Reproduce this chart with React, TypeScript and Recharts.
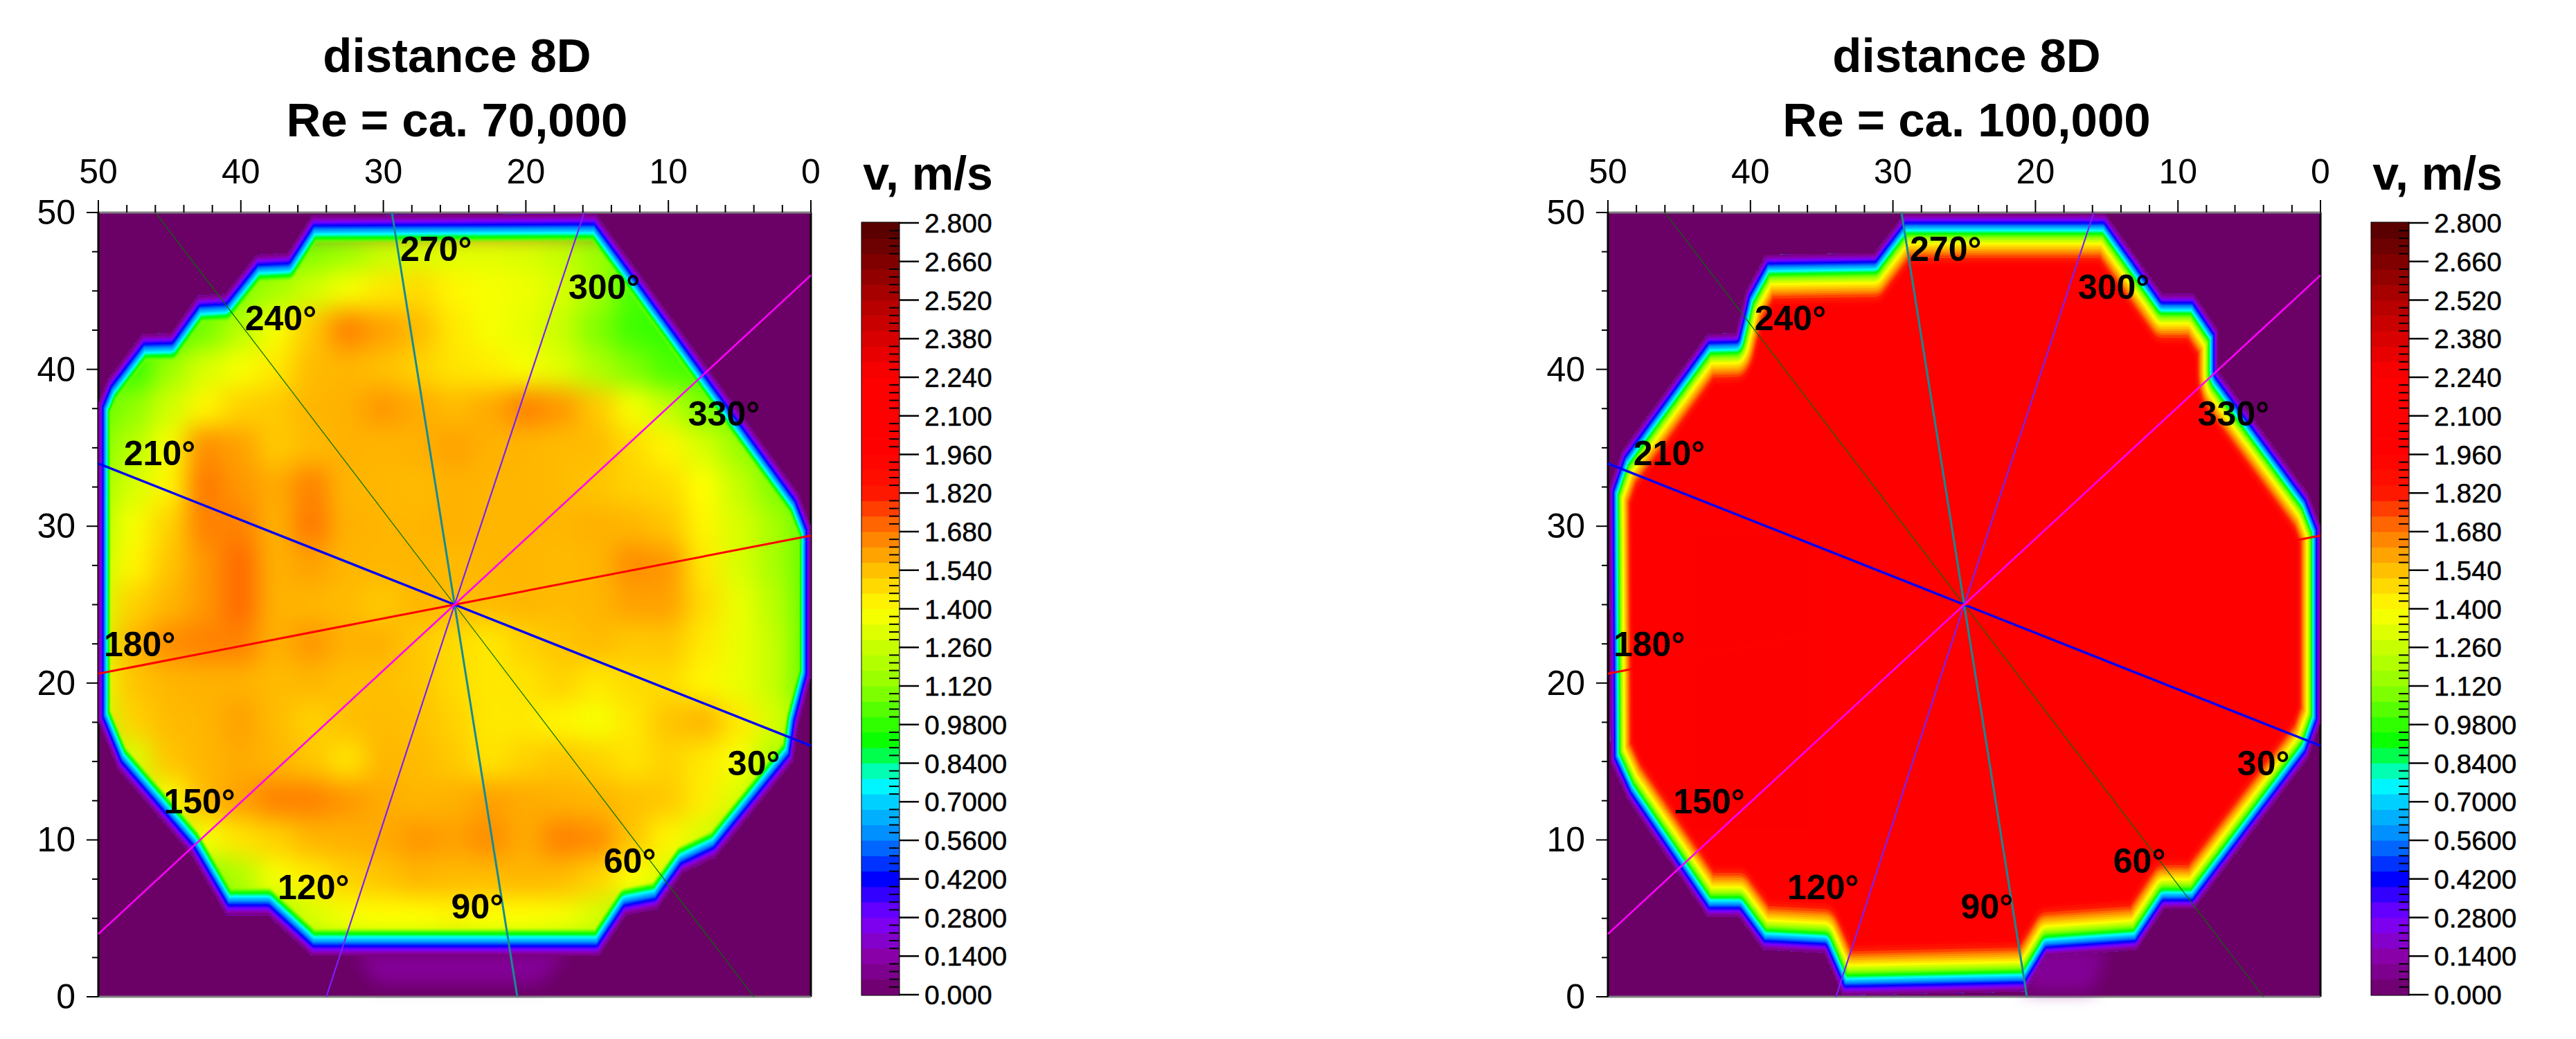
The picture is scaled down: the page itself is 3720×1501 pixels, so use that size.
import React from "react"
import {
  ScatterChart,
  Scatter,
  XAxis,
  YAxis,
  CartesianGrid,
  ReferenceLine,
  ReferenceArea,
  BarChart,
  Bar,
} from "recharts"

type Pt = { x: number; y: number }

const FONT = '"Liberation Sans", Arial, sans-serif'
const PURPLE = "#6b0066"

const xTicks = [50, 48, 46, 44, 42, 40, 38, 36, 34, 32, 30, 28, 26, 24, 22, 20, 18, 16, 14, 12, 10, 8, 6, 4, 2, 0]
const yTicks = [0, 2.5, 5, 7.5, 10, 12.5, 15, 17.5, 20, 22.5, 25, 27.5, 30, 32.5, 35, 37.5, 40, 42.5, 45, 47.5, 50]

// colour scale of the legend
const stopValues = [0, 0.14, 0.28, 0.35, 0.42, 0.56, 0.7, 0.77, 0.84, 0.91, 0.98, 1.12, 1.26, 1.4, 1.54, 1.68, 1.82, 1.96, 2.24, 2.38, 2.52, 2.66, 2.8]
const stopColors = ["#6b0066", "#8a00a8", "#7a00ff", "#4000ff", "#0000ff", "#0080ff", "#00d0ff", "#00ffff", "#00ff80", "#00ff00", "#30ff00", "#90ff00", "#c8ff00", "#ffff00", "#ffc000", "#ff7800", "#ff1800", "#ff0000", "#ff0000", "#d80000", "#b00000", "#800000", "#500000"]

const legendTicks = [0, 0.14, 0.28, 0.42, 0.56, 0.7, 0.84, 0.98, 1.12, 1.26, 1.4, 1.54, 1.68, 1.82, 1.96, 2.1, 2.24, 2.38, 2.52, 2.66, 2.8]
const legendLabels = ["0.000", "0.1400", "0.2800", "0.4200", "0.5600", "0.7000", "0.8400", "0.9800", "1.120", "1.260", "1.400", "1.540", "1.680", "1.820", "1.960", "2.100", "2.240", "2.380", "2.520", "2.660", "2.800"]
const legendBands = [0, 0.056, 0.112, 0.168, 0.224, 0.28, 0.336, 0.392, 0.448, 0.504, 0.56, 0.616, 0.672, 0.728, 0.784, 0.84, 0.896, 0.952, 1.008, 1.064, 1.12, 1.176, 1.232, 1.288, 1.344, 1.4, 1.456, 1.512, 1.568, 1.624, 1.68, 1.736, 1.792, 1.848, 1.904, 1.96, 2.016, 2.072, 2.128, 2.184, 2.24, 2.296, 2.352, 2.408, 2.464, 2.52, 2.576, 2.632, 2.688, 2.744]

// measuring directions: each is a chord through the centre
const magentaLine: Pt[] = [{ x: 50, y: 4 }, { x: 25, y: 25 }, { x: 0, y: 46 }]
const blueLine: Pt[] = [{ x: 50, y: 34 }, { x: 25, y: 25 }, { x: 0, y: 16 }]
const redLine: Pt[] = [{ x: 50, y: 20.6 }, { x: 25, y: 25 }, { x: 0, y: 29.4 }]
const tealLine: Pt[] = [{ x: 29.4, y: 50 }, { x: 25, y: 25 }, { x: 20.6, y: 0 }]
const violetLine: Pt[] = [{ x: 15.9, y: 50 }, { x: 25, y: 25 }, { x: 34, y: 0 }]
const greenLine: Pt[] = [{ x: 46, y: 50 }, { x: 25, y: 25 }, { x: 4, y: 0 }]

const angleLabels = [
  { x: 26.3, y: 47.7, label: "270°" },
  { x: 14.5, y: 45.3, label: "300°" },
  { x: 37.2, y: 43.3, label: "240°" },
  { x: 6.1, y: 37.2, label: "330°" },
  { x: 45.7, y: 34.7, label: "210°" },
  { x: 47.1, y: 22.5, label: "180°" },
  { x: 42.9, y: 12.5, label: "150°" },
  { x: 4.0, y: 14.9, label: "30°" },
  { x: 34.9, y: 7, label: "120°" },
  { x: 23.4, y: 5.8, label: "90°" },
  { x: 12.7, y: 8.7, label: "60°" },
]

// outer edge of the measured jet
const leftOutline: Pt[] = [
  { x: 50, y: 37.85 }, { x: 49.3, y: 39.4 }, { x: 46.9, y: 42.25 }, { x: 44.9, y: 42.3 }, { x: 43, y: 44.7 },
  { x: 41.1, y: 44.8 }, { x: 38.9, y: 47.3 }, { x: 36.7, y: 47.4 }, { x: 35, y: 49.8 }, { x: 15.1, y: 49.9 },
  { x: 12.2, y: 46.3 }, { x: 0.9, y: 32.1 }, { x: 0, y: 30 }, { x: 0, y: 20.4 }, { x: 0.9, y: 17.3 },
  { x: 1.26, y: 15 }, { x: 6.7, y: 8.9 }, { x: 9, y: 7.9 }, { x: 10.8, y: 5.6 }, { x: 13, y: 5.2 },
  { x: 14.9, y: 2.6 }, { x: 35, y: 2.6 }, { x: 38.1, y: 5.2 }, { x: 41, y: 5.2 }, { x: 43.5, y: 9.1 },
  { x: 48.6, y: 14.5 }, { x: 50, y: 17.6 },
]
const rightOutline: Pt[] = [
  { x: 49.9, y: 32.4 }, { x: 49, y: 34.8 }, { x: 43, y: 42.25 }, { x: 41, y: 42.3 }, { x: 40.3, y: 45 },
  { x: 38.9, y: 47.3 }, { x: 31.3, y: 47.4 }, { x: 29.2, y: 49.9 }, { x: 15.1, y: 49.9 }, { x: 11.1, y: 44.8 },
  { x: 8.9, y: 44.8 }, { x: 7.2, y: 42.5 }, { x: 7.2, y: 39.9 }, { x: 0.9, y: 32.1 }, { x: 0, y: 30 },
  { x: 0, y: 17.5 }, { x: 0.9, y: 15.2 }, { x: 8.9, y: 5.6 }, { x: 11, y: 5.6 }, { x: 12.9, y: 3 },
  { x: 19.2, y: 2.6 }, { x: 20.7, y: 0.35 }, { x: 33.5, y: 0.1 }, { x: 34.8, y: 2.8 }, { x: 39.1, y: 3 },
  { x: 40.8, y: 5.1 }, { x: 43, y: 5.1 }, { x: 48.6, y: 12.6 }, { x: 49.8, y: 15 },
]
const leftHalo: Pt[] = [{ x: 32, y: 2.8 }, { x: 30.5, y: 0.8 }, { x: 19, y: 0.8 }, { x: 17, y: 2.8 }]
const rightHalo: Pt[] = [{ x: 20.7, y: 3 }, { x: 20.7, y: 0.4 }, { x: 16, y: 0.4 }, { x: 15, y: 3 }]

// velocity, x = 50..0 in 2.5 steps
const leftColumns = [50, 47.5, 45, 42.5, 40, 37.5, 35, 32.5, 30, 27.5, 25, 22.5, 20, 17.5, 15, 12.5, 10, 7.5, 5, 2.5, 0]
const leftRowYs = [47.5, 45, 42.5, 40, 37.5, 35, 32.5, 30, 27.5, 25, 22.5, 20, 17.5, 15, 12.5, 10, 7.5, 5, 2.5]
const leftRows = [
  [1.05, 1.05, 1.05, 1.05, 1.05, 1.05, 1.1, 1.15, 1.25, 1.3, 1.32, 1.32, 1.3, 1.25, 1.15, 1.05, 1.05, 1.05, 1.05, 1.05, 1.05],
  [1.05, 1.05, 1.05, 1.05, 1.1, 1.18, 1.28, 1.38, 1.45, 1.48, 1.42, 1.38, 1.36, 1.3, 1.18, 1.02, 1.0, 1.0, 1.0, 1.0, 1.0],
  [1.05, 1.05, 1.0, 1.08, 1.22, 1.38, 1.52, 1.66, 1.6, 1.55, 1.45, 1.38, 1.34, 1.26, 1.1, 1.0, 0.98, 1.0, 1.0, 1.0, 1.0],
  [1.05, 0.98, 1.15, 1.3, 1.38, 1.45, 1.55, 1.56, 1.54, 1.5, 1.46, 1.44, 1.38, 1.32, 1.2, 1.1, 1.02, 1.0, 1.0, 1.0, 1.0],
  [1.05, 1.12, 1.28, 1.42, 1.5, 1.52, 1.56, 1.57, 1.62, 1.58, 1.55, 1.58, 1.66, 1.62, 1.52, 1.38, 1.25, 1.1, 1.05, 1.0, 1.0],
  [1.1, 1.22, 1.38, 1.64, 1.6, 1.52, 1.55, 1.57, 1.56, 1.57, 1.6, 1.57, 1.56, 1.55, 1.55, 1.48, 1.42, 1.3, 1.15, 1.05, 1.0],
  [1.15, 1.3, 1.42, 1.68, 1.62, 1.58, 1.66, 1.56, 1.56, 1.55, 1.57, 1.56, 1.56, 1.55, 1.53, 1.5, 1.48, 1.4, 1.25, 1.1, 1.0],
  [1.2, 1.38, 1.5, 1.66, 1.66, 1.57, 1.68, 1.57, 1.56, 1.56, 1.57, 1.56, 1.56, 1.56, 1.57, 1.56, 1.53, 1.42, 1.3, 1.18, 1.05],
  [1.25, 1.42, 1.53, 1.62, 1.7, 1.57, 1.6, 1.56, 1.56, 1.56, 1.55, 1.56, 1.56, 1.55, 1.56, 1.64, 1.62, 1.45, 1.3, 1.18, 1.05],
  [1.3, 1.5, 1.56, 1.62, 1.7, 1.57, 1.56, 1.55, 1.52, 1.56, 1.55, 1.55, 1.56, 1.55, 1.56, 1.6, 1.6, 1.48, 1.35, 1.22, 1.05],
  [1.3, 1.56, 1.64, 1.66, 1.66, 1.57, 1.62, 1.57, 1.57, 1.52, 1.48, 1.45, 1.5, 1.53, 1.55, 1.52, 1.53, 1.45, 1.35, 1.25, 1.05],
  [1.35, 1.53, 1.56, 1.57, 1.57, 1.55, 1.56, 1.54, 1.54, 1.53, 1.48, 1.45, 1.46, 1.5, 1.45, 1.48, 1.48, 1.42, 1.35, 1.25, 1.05],
  [1.25, 1.5, 1.55, 1.56, 1.6, 1.55, 1.5, 1.54, 1.55, 1.54, 1.5, 1.45, 1.45, 1.42, 1.38, 1.45, 1.53, 1.56, 1.45, 1.3, 1.1],
  [1.1, 1.3, 1.53, 1.56, 1.58, 1.56, 1.53, 1.46, 1.56, 1.55, 1.52, 1.46, 1.5, 1.53, 1.5, 1.46, 1.5, 1.45, 1.38, 1.2, 1.1],
  [1.1, 1.15, 1.38, 1.55, 1.6, 1.66, 1.66, 1.62, 1.58, 1.56, 1.57, 1.6, 1.58, 1.57, 1.56, 1.54, 1.52, 1.44, 1.3, 1.1, 1.1],
  [1.1, 1.1, 1.12, 1.38, 1.46, 1.5, 1.56, 1.57, 1.58, 1.62, 1.6, 1.64, 1.58, 1.66, 1.64, 1.53, 1.42, 1.3, 1.12, 1.1, 1.1],
  [1.1, 1.1, 1.1, 1.1, 1.2, 1.38, 1.44, 1.5, 1.53, 1.56, 1.55, 1.55, 1.56, 1.55, 1.5, 1.4, 1.3, 1.1, 1.1, 1.1, 1.1],
  [1.1, 1.1, 1.1, 1.1, 1.1, 1.15, 1.3, 1.38, 1.4, 1.4, 1.42, 1.4, 1.4, 1.38, 1.3, 1.1, 1.1, 1.1, 1.1, 1.1, 1.1],
  [1.1, 1.1, 1.1, 1.1, 1.1, 1.1, 1.1, 1.1, 1.1, 1.1, 1.1, 1.1, 1.1, 1.1, 1.1, 1.1, 1.1, 1.1, 1.1, 1.1, 1.1],
]
// the right map is saturated red, with only faint darker patches
const rightColumns = [50, 40, 30, 20, 10, 0]
const rightRowYs = [45, 35, 25, 15, 5]
const rightRows = [
  [2.05, 2.05, 2.05, 2.05, 2.05, 2.05],
  [2.05, 2.24, 2.05, 2.05, 2.05, 2.05],
  [2.05, 2.25, 2.05, 2.05, 2.05, 2.05],
  [2.05, 2.25, 2.05, 2.05, 2.05, 2.05],
  [2.05, 2.05, 2.05, 2.05, 2.05, 2.05],
]

const rimLevelsLeft = [1.14, 1.1, 1.06, 1.02, 0.98, 0.945, 0.91, 0.875, 0.84, 0.805, 0.77, 0.735, 0.7, 0.665, 0.63, 0.595, 0.56, 0.525, 0.49, 0.455, 0.42, 0.385, 0.35, 0.315, 0.28, 0.245, 0.21, 0.175, 0.14, 0.105, 0.07]
const rimLevelsRight = [2.0, 1.94, 1.88, 1.82, 1.76, 1.7, 1.64, 1.58, 1.52, 1.46, 1.4, 1.34, 1.28, 1.22, 1.16, 1.1, 1.04, 0.98, 0.945, 0.91, 0.875, 0.84, 0.805, 0.77, 0.735, 0.7, 0.665, 0.63, 0.595, 0.56, 0.525, 0.49, 0.455, 0.42, 0.385, 0.35, 0.315, 0.28, 0.245, 0.21, 0.175, 0.14, 0.105, 0.07]

function hexToRgb(h: string) {
  return [parseInt(h.slice(1, 3), 16), parseInt(h.slice(3, 5), 16), parseInt(h.slice(5, 7), 16)]
}

function colorFor(v: number) {
  if (v <= stopValues[0]) return stopColors[0]
  for (let i = 1; i < stopValues.length; i++) {
    if (v <= stopValues[i]) {
      const t = (v - stopValues[i - 1]) / (stopValues[i] - stopValues[i - 1])
      const a = hexToRgb(stopColors[i - 1])
      const b = hexToRgb(stopColors[i])
      const c = a.map((n, k) => Math.round(n + (b[k] - n) * t))
      return `rgb(${c[0]},${c[1]},${c[2]})`
    }
  }
  return stopColors[stopColors.length - 1]
}

// horizontal half width of each colour band, vertical is PEN_RATIO times that
const PEN_RATIO = 2.2
const penLeft = (v: number) => (v / 0.98) * 16
const penRight = (v: number) => {
  if (v <= 0.98) return (v / 0.98) * 14
  if (v <= 1.4) return 14 + ((v - 0.98) / 0.42) * 6
  if (v <= 1.7) return 20 + ((v - 1.4) / 0.3) * 7
  return 27 + ((v - 1.7) / 0.3) * 9
}

const toPath = (points: { x: number; y: number }[], ky = 1) =>
  points.map((p, i) => `${i === 0 ? "M" : "L"}${p.x},${p.y / ky}`).join(" ") + " Z"

const hidden = () => null

function XTick({ x, y, payload }: any) {
  const major = payload.value % 10 === 0
  return (
    <g>
      <line x1={x} x2={x} y1={y} y2={y - (major ? 18 : 11)} stroke="#000" strokeWidth={2} />
      {major && (
        <text x={x} y={y - 42} textAnchor="middle" fontFamily={FONT} fontSize={50} fill="#000">
          {payload.value}
        </text>
      )}
    </g>
  )
}

function YTick({ x, y, payload }: any) {
  const major = payload.value % 10 === 0
  return (
    <g>
      <line x1={x} x2={x - (major ? 17 : 9)} y1={y} y2={y} stroke="#000" strokeWidth={2} />
      {major && (
        <text x={x - 33} y={y + 17} textAnchor="end" fontFamily={FONT} fontSize={50} fill="#000">
          {payload.value}
        </text>
      )}
    </g>
  )
}

function Panel({
  id,
  left,
  outline,
  halo,
  rows,
  rowYs,
  columns,
  levels,
  pen,
  cellW,
  cellH,
  fade,
}: {
  id: string
  left: number
  outline: Pt[]
  halo: Pt[]
  rows: number[][]
  rowYs: number[]
  columns: number[]
  levels: number[]
  pen: (v: number) => number
  cellW: number
  cellH: number
  fade: number
}) {
  const cells = rows.flatMap((row, r) => row.map((v, c) => ({ x: columns[c], y: rowYs[r], v })))
  const lineOf = (stroke: string, width: number) => (p: any) => (
    <path d={p.points.map((q: Pt, i: number) => `${i ? "L" : "M"}${q.x},${q.y}`).join(" ")} stroke={stroke} strokeWidth={width} fill="none" />
  )
  return (
    <div style={{ position: "absolute", left, top: 0 }}>
      <style>{`.heat-${id}{filter:blur(17px);clip-path:url(#outline-${id})}`}</style>
      <ScatterChart width={1240} height={1501} margin={{ left: 82, right: 69, top: 247, bottom: 61 }}>
        <CartesianGrid fill={PURPLE} horizontal={false} vertical={false} />
        <XAxis
          xAxisId={0}
          dataKey="x"
          type="number"
          orientation="top"
          domain={[0, 50]}
          reversed
          ticks={xTicks}
          interval={0}
          height={60}
          tickSize={0}
          tickMargin={0}
          tick={XTick}
          tickLine={false}
          axisLine={{ stroke: "#808080", strokeWidth: 3 }}
        />
        <YAxis
          yAxisId={0}
          dataKey="y"
          type="number"
          domain={[0, 50]}
          ticks={yTicks}
          interval={0}
          width={60}
          tickSize={0}
          tickMargin={0}
          tick={YTick}
          tickLine={false}
          axisLine={{ stroke: "#000", strokeWidth: 3 }}
        />
        <Scatter
          data={halo}
          isAnimationActive={false}
          shape={hidden}
          line={(p: any) => <path d={toPath(p.points)} fill="#8a00a4" fillOpacity={0.8} style={{ filter: "blur(12px)" }} />}
        />
        <Scatter
          data={outline}
          isAnimationActive={false}
          shape={hidden}
          line={(p: any) => (
            <defs>
              <clipPath id={`outline-${id}`}>
                <path d={toPath(p.points)} />
              </clipPath>
            </defs>
          )}
        />
        <Scatter
          className={`heat-${id}`}
          data={cells}
          isAnimationActive={false}
          shape={(p: any) => (
            <rect x={p.cx - cellW / 2} y={p.cy - cellH / 2} width={cellW} height={cellH} fill={colorFor(p.payload.v)} />
          )}
        />
        <Scatter
          data={outline}
          isAnimationActive={false}
          shape={hidden}
          line={(p: any) => (
            <g clipPath={`url(#outline-${id})`}>
              <g transform={`scale(1,${PEN_RATIO})`}>
                {levels.map((v) => (
                  <path
                    key={v}
                    d={toPath(p.points, PEN_RATIO)}
                    fill="none"
                    stroke={colorFor(v)}
                    strokeOpacity={v > fade ? 1 - (v - fade) / 0.2 : 1}
                    strokeWidth={2 * pen(v)}
                    strokeLinejoin="round"
                  />
                ))}
              </g>
            </g>
          )}
        />
        <Scatter data={greenLine} isAnimationActive={false} shape={hidden} line={lineOf("#006e00", 1.2)} />
        <Scatter data={tealLine} isAnimationActive={false} shape={hidden} line={lineOf("#178a96", 3)} />
        <Scatter data={violetLine} isAnimationActive={false} shape={hidden} line={lineOf("#7a20ff", 2.2)} />
        <Scatter data={blueLine} isAnimationActive={false} shape={hidden} line={lineOf("#0000ff", 3.4)} />
        <Scatter data={redLine} isAnimationActive={false} shape={hidden} line={lineOf("#ff0000", 3)} />
        <Scatter data={magentaLine} isAnimationActive={false} shape={hidden} line={lineOf("#ff00ff", 2.6)} />
        <Scatter
          data={angleLabels}
          isAnimationActive={false}
          shape={(p: any) => (
            <text x={p.cx} y={p.cy + 18} textAnchor="middle" fontFamily={FONT} fontWeight={700} fontSize={50} fill="#000">
              {p.payload.label}
            </text>
          )}
        />
        <ReferenceLine x={0} stroke="#000" strokeWidth={3} />
        <ReferenceLine y={0} stroke="#808080" strokeWidth={3} />
      </ScatterChart>
    </div>
  )
}

function LegendTick({ x, y, payload }: any) {
  const i = legendTicks.findIndex((t) => Math.abs(t - payload.value) < 1e-6)
  if (i < 0) {
    return <line x1={x} x2={x - 14} y1={y} y2={y} stroke="#000" strokeWidth={2} />
  }
  return (
    <g>
      <line x1={x} x2={x + 29} y1={y} y2={y} stroke="#000" strokeWidth={2.5} />
      <text x={x + 37} y={y + 14} fontFamily={FONT} fontSize={39} fill="#000" stroke="#000" strokeWidth={0.5}>
        {legendLabels[i]}
      </text>
    </g>
  )
}

const legendMinorTicks = [...legendTicks, ...legendTicks.slice(0, -1).flatMap((t) => [t + 0.028, t + 0.056, t + 0.084, t + 0.112])]
const legendRow = Object.fromEntries([["name", "v"], ...legendBands.map((b, i) => [`b${i}`, 0.056])])

function Legend({ left }: { left: number }) {
  return (
    <div style={{ position: "absolute", left, top: 0 }}>
      <BarChart
        width={300}
        height={1501}
        data={[legendRow]}
        barCategoryGap={0}
        margin={{ left: 5, right: 0, top: 322, bottom: 64 }}
      >
        <XAxis dataKey="name" hide />
        <YAxis
          orientation="right"
          type="number"
          domain={[0, 2.8]}
          ticks={legendMinorTicks}
          interval={0}
          width={242}
          tickSize={0}
          tickMargin={0}
          tick={LegendTick}
          tickLine={false}
          axisLine={false}
        />
        {legendBands.map((b, i) => (
          <Bar key={i} dataKey={`b${i}`} stackId="v" fill={colorFor(b + 0.028)} stroke={colorFor(b + 0.028)} isAnimationActive={false} />
        ))}
        <ReferenceArea y1={0} y2={2.8} fill="none" stroke="#000" strokeWidth={3} />
      </BarChart>
    </div>
  )
}

const headings = [
  { x: 660, line1: "distance 8D", line2: "Re = ca. 70,000", unit: 1340 },
  { x: 2840, line1: "distance 8D", line2: "Re = ca. 100,000", unit: 3520 },
]

export default function App() {
  return (
    <div style={{ position: "absolute", left: 0, top: 0, width: 3720, height: 1501, background: "#fff", overflow: "hidden" }}>
      <Panel id="l" left={0} outline={leftOutline} halo={leftHalo} rows={leftRows} rowYs={leftRowYs} columns={leftColumns} levels={rimLevelsLeft} pen={penLeft} cellW={54} cellH={60} fade={0.96} />
      <Panel id="r" left={2180} outline={rightOutline} halo={rightHalo} rows={rightRows} rowYs={rightRowYs} columns={rightColumns} levels={rimLevelsRight} pen={penRight} cellW={210} cellH={230} fade={3} />
      <Legend left={1240} />
      <Legend left={3420} />
      <svg width={3720} height={1501} style={{ position: "absolute", left: 0, top: 0, pointerEvents: "none" }}>
        {headings.map((h) => (
          <g key={h.x} fontFamily={FONT} fontWeight={700} fill="#000" textAnchor="middle">
            <text x={h.x} y={104} fontSize={69}>{h.line1}</text>
            <text x={h.x} y={197} fontSize={69}>{h.line2}</text>
            <text x={h.unit} y={274} fontSize={68}>v, m/s</text>
          </g>
        ))}
      </svg>
    </div>
  )
}
